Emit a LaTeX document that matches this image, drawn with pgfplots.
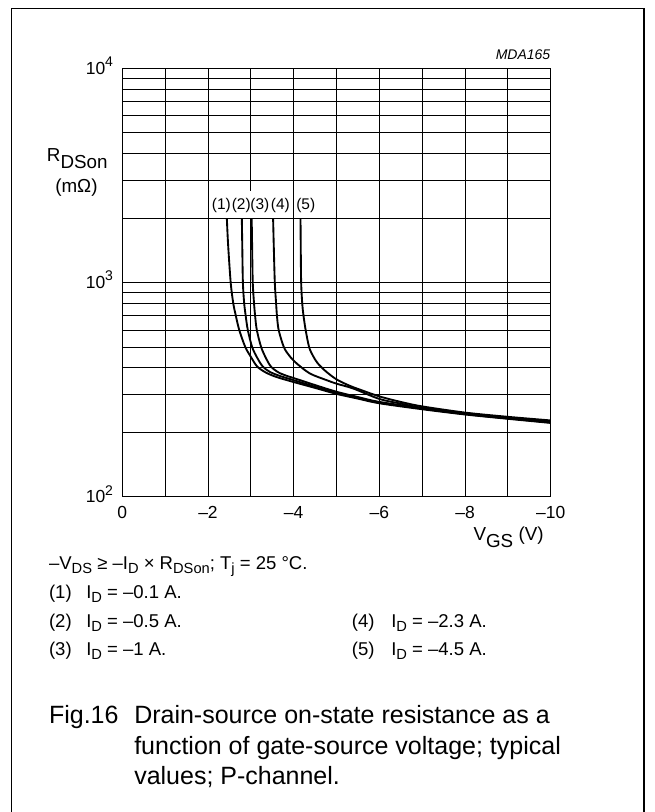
\documentclass[border=0pt]{standalone}
\usepackage{fontspec}
\setmainfont{Liberation Sans}
\usepackage{pgfplots}
\pgfplotsset{compat=1.18}
\newcommand\fs[1]{\fontsize{#1}{#1}\selectfont}
\newcommand\lsub[1]{\raisebox{-3pt}{\fs{11pt}#1}}
\newcommand\asub[1]{\raisebox{-4.9pt}{#1}}
\newcommand\dec[1]{10\raisebox{5.5pt}{\fs{10.5pt}#1}}
\begin{document}
\begin{tikzpicture}
\begin{scope}[x=0.75pt,y=-0.75pt]
\useasboundingbox (0,0) rectangle (655,812);
\draw[line width=1pt] (11.3,830) -- (11.3,8.3) -- (644,8.3) -- (644,830);
\end{scope}
\begin{axis}[
  at={(91.725pt,-372.525pt)}, anchor=south west,
  scale only axis, width=321.3pt, height=321.3pt,
  xmin=-10, xmax=0, x dir=reverse,
  ymode=log, ymin=100, ymax=10000,
  xtick={0,-2,-4,-6,-8,-10},
  xticklabels={0,–2,–4,–6,–8,–10},
  minor xtick={-1,-3,-5,-7,-9},
  ytick={100,1000,10000},
  yticklabels={\dec{2},\dec{3},\dec{4}},
  minor ytick={200,300,400,500,600,700,800,900,2000,3000,4000,5000,6000,7000,8000,9000},
  grid=both,
  grid style={black, line width=0.6pt},
  major tick length=0pt, minor tick length=0pt,
  axis line style={line width=0.8pt},
  tick label style={font=\fs{13.1pt}, inner sep=0pt},
  xticklabel style={anchor=base, yshift=-16.7pt},
  yticklabel style={anchor=base east, xshift=-6.75pt, yshift=-4.3pt},
]
% (1) ID = -0.1 A
\addplot[black, line width=1.4pt, smooth] coordinates {(-2.44,2000) (-2.47,1500) (-2.53,1000) (-2.59,800) (-2.65,700) (-2.73,600) (-2.87,500) (-3.0,450) (-3.15,405) (-3.35,380) (-3.6,362) (-4.0,343) (-4.5,322) (-5,302) (-5.5,287) (-6,273) (-7,256) (-8,242) (-9,231) (-10,221)};
% (2) ID = -0.5 A
\addplot[black, line width=1.4pt, smooth] coordinates {(-2.79,2000) (-2.80,1500) (-2.815,1000) (-2.845,800) (-2.88,700) (-2.93,600) (-3.03,500) (-3.15,445) (-3.28,405) (-3.45,382) (-3.7,365) (-4.0,350) (-4.5,326) (-5,305) (-5.5,289) (-6,275) (-7,258) (-8,243) (-9,232) (-10,222)};
% (3) ID = -1 A
\addplot[black, line width=1.4pt, smooth] coordinates {(-3.02,2000) (-3.03,1500) (-3.045,1000) (-3.075,800) (-3.1,700) (-3.14,600) (-3.24,500) (-3.35,445) (-3.47,405) (-3.65,380) (-3.85,366) (-4.0,358) (-4.5,332) (-5,309) (-5.5,292) (-6,277) (-7,259) (-8,244) (-9,233) (-10,223)};
% (4) ID = -2.3 A
\addplot[black, line width=1.4pt, smooth] coordinates {(-3.52,2000) (-3.535,1500) (-3.56,1000) (-3.59,800) (-3.61,700) (-3.65,600) (-3.77,500) (-3.9,455) (-4.07,419) (-4.38,376) (-4.77,350) (-5.0,337) (-5.39,320) (-6,286) (-6.5,272) (-7,260) (-8,245) (-9,234) (-10,225)};
% (5) ID = -4.5 A
\addplot[black, line width=1.4pt, smooth] coordinates {(-4.16,2000) (-4.165,1500) (-4.175,1000) (-4.20,800) (-4.23,700) (-4.28,600) (-4.36,500) (-4.45,455) (-4.56,420) (-4.75,385) (-5.0,353) (-5.3,330) (-5.55,316) (-6,294) (-6.5,277) (-7,264) (-8,247) (-9,236) (-10,227)};
\end{axis}
\begin{scope}[x=0.75pt,y=-0.75pt, every node/.style={inner sep=0pt, anchor=base west}]
\fill[white] (209.6,191) rectangle (292.4,217.6);
\node[font=\fs{11.6pt}] at (211.7,210) {(1)};
\node[font=\fs{11.6pt}] at (231.5,210) {(2)};
\node[font=\fs{11.6pt}] at (250.2,210) {(3)};
\node[font=\fs{11.6pt}] at (270.7,210) {(4)};
\node[font=\fs{11.6pt}] at (296,210) {(5)};
\node[font=\itshape\fs{10.5pt}, anchor=base east] at (550.5,60) {MDA165};
\node[font=\fs{14.1pt}] at (46.7,162) {R\asub{DSon}};
\node[font=\fs{14.1pt}] at (55,192.5) {(mΩ)};
\node[font=\fs{14.1pt}] at (473.3,540.5) {V\asub{GS} (V)};
\node[font=\fs{13.9pt}] at (48.8,569) {–V\lsub{DS} ≥ –I\lsub{D} × R\lsub{DSon}; T\lsub{j} = 25 °C.};
\node[font=\fs{13.9pt}] at (48.8,598.5) {(1)};
\node[font=\fs{13.9pt}] at (86,598.5) {I\lsub{D} = –0.1 A.};
\node[font=\fs{13.9pt}] at (48.8,627) {(2)};
\node[font=\fs{13.9pt}] at (86,627) {I\lsub{D} = –0.5 A.};
\node[font=\fs{13.9pt}] at (48.8,655.5) {(3)};
\node[font=\fs{13.9pt}] at (86,655.5) {I\lsub{D} = –1 A.};
\node[font=\fs{13.9pt}] at (351.7,627) {(4)};
\node[font=\fs{13.9pt}] at (391,627) {I\lsub{D} = –2.3 A.};
\node[font=\fs{13.9pt}] at (351.7,655.5) {(5)};
\node[font=\fs{13.9pt}] at (391,655.5) {I\lsub{D} = –4.5 A.};
\node[font=\fs{18.75pt}] at (48.8,723.5) {Fig.16};
\node[font=\fs{18.75pt}] at (134,723.5) {Drain-source on-state resistance as a};
\node[font=\fs{18.75pt}] at (134,754) {function of gate-source voltage; typical};
\node[font=\fs{18.75pt}] at (134,784.5) {values; P-channel.};
\end{scope}
\end{tikzpicture}
\end{document}
